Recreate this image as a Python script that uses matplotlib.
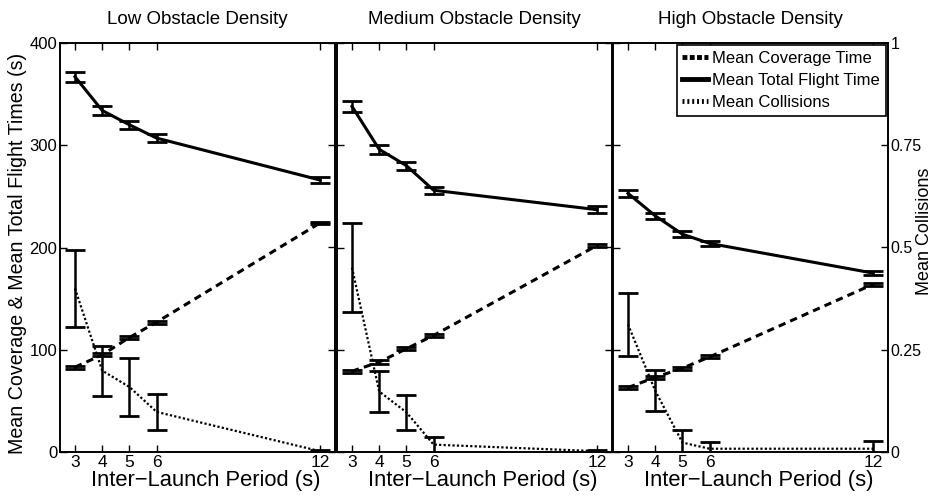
import matplotlib
matplotlib.use("Agg")
import matplotlib.pyplot as plt
from matplotlib.lines import Line2D

plt.rcParams['font.family'] = ['Liberation Sans', 'DejaVu Sans']

periods = [3, 4, 5, 6, 12]
titles = ['Low Obstacle Density', 'Medium Obstacle Density', 'High Obstacle Density']

# mean coverage time (s) and error, per density
coverage = [
    [83, 95, 112, 127, 224],
    [79, 88, 101, 114, 202],
    [63, 73, 82, 93, 164],
]
coverage_err = [
    [1.5, 1.5, 1.5, 1.5, 1.2],
    [1.5, 1.5, 1.5, 1.5, 1.2],
    [1.5, 1.5, 1.5, 1.5, 1.2],
]

# mean total flight time (s) and error
total = [
    [367, 334, 320, 307, 266],
    [338, 296, 280, 256, 237],
    [253, 231, 213, 204, 175],
]
total_err = [
    [5, 4, 4, 4, 3],
    [5, 4.5, 4, 3.5, 3.3],
    [3.2, 2.8, 2.7, 2.1, 1.7],
]

# mean collisions and error (right axis)
collisions = [
    [0.40, 0.199, 0.159, 0.098, 0.002],
    [0.451, 0.148, 0.097, 0.018, 0.002],
    [0.312, 0.15, 0.023, 0.008, 0.008],
]
collisions_err = [
    [0.094, 0.061, 0.071, 0.044, 0.002],
    [0.108, 0.05, 0.042, 0.019, 0.002],
    [0.077, 0.05, 0.031, 0.016, 0.019],
]

fig = plt.figure(figsize=(9.36, 4.97), dpi=100)
lefts = [60 / 936, 337 / 936, 613 / 936]
width = 275 / 936
bottom = 45 / 497
height = 409 / 497

cap = 7
for i in range(3):
    ax = fig.add_axes([lefts[i], bottom, width, height])
    ax2 = ax.twinx()

    ax.errorbar(periods, total[i], yerr=total_err[i], color='black', lw=2.2,
                ls='-', capsize=cap, capthick=2, elinewidth=1.8)
    ax.errorbar(periods, coverage[i], yerr=coverage_err[i], color='black', lw=2.2,
                ls=(0, (2.4, 1.7)), capsize=cap, capthick=2, elinewidth=1.8)
    ax2.errorbar(periods, collisions[i], yerr=collisions_err[i], color='black', lw=1.6,
                 ls=(0, (1, 1)), capsize=cap, capthick=2, elinewidth=1.8)

    ax.set_xlim(2.45, 12.55)
    ax.set_ylim(0, 400)
    ax2.set_ylim(0, 1)
    ax.set_xticks(periods)
    ax.set_yticks([0, 100, 200, 300, 400])
    ax2.set_yticks([0, 0.25, 0.5, 0.75, 1])
    ax.tick_params(direction='in', top=True, length=5, width=1, labelsize=12.5, pad=2)
    ax.tick_params(axis='y', labelsize=12)
    ax2.tick_params(direction='in', length=5, width=1, labelsize=11.5, pad=2)
    if i > 0:
        ax.set_yticklabels([])
    if i < 2:
        ax2.set_yticklabels([])
    else:
        ax2.set_yticklabels(['0', '0.25', '0.5', '0.75', '1'])
        ax2.set_ylabel('Mean Collisions', fontsize=13)
        ax2.yaxis.set_label_coords(1.1, 0.54)
    for a in (ax, ax2):
        for s in a.spines.values():
            s.set_linewidth(1.2)

    ax.set_title(titles[i], fontsize=13.5, pad=14)
    ax.set_xlabel('Inter\u2212Launch Period (s)', fontsize=15.8, labelpad=0)
    ax.xaxis.label.set_x(0.5 + 8 / 275)
    if i == 0:
        ax.set_ylabel('Mean Coverage & Mean Total Flight Times (s)', fontsize=14.1, labelpad=2)
        ax.yaxis.label.set_y(0.485)
    if i == 2:
        handles = [
            Line2D([], [], color='black', lw=3.5, ls=(0, (1, 0.5))),
            Line2D([], [], color='black', lw=3.5, ls='-'),
            Line2D([], [], color='black', lw=3.5, ls=(0, (0.4, 0.6))),
        ]
        leg = ax2.legend(handles, ['Mean Coverage Time', 'Mean Total Flight Time', 'Mean Collisions'],
                         loc='upper right', fontsize=12, handlelength=1.55, handletextpad=0.25,
                         labelspacing=0.42, borderpad=0.35, borderaxespad=0.12,
                         fancybox=False, framealpha=1, edgecolor='black')
        leg.get_frame().set_linewidth(1.2)

fig.savefig('out.png', dpi=100)
